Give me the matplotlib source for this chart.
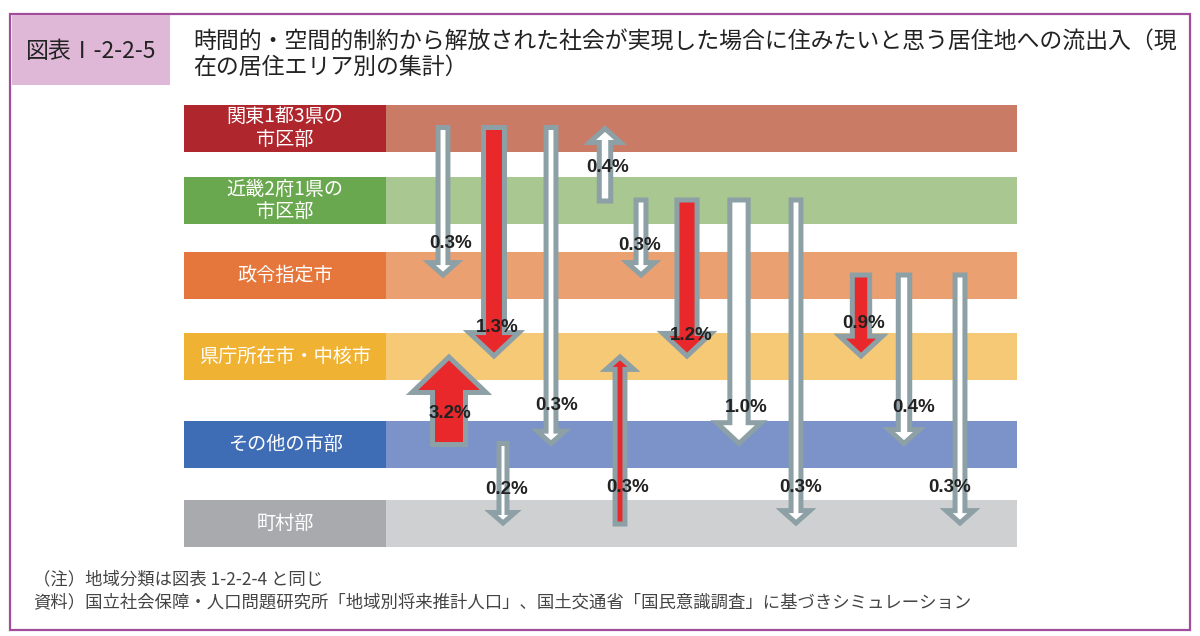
import numpy as np
import matplotlib
matplotlib.use("Agg")
import matplotlib.pyplot as plt
from matplotlib.patches import Polygon, Rectangle

plt.rcParams['font.family'] = ['Noto Sans CJK JP', 'DejaVu Sans']

# data
regions = ["関東1都3県の\n市区部", "近畿2府1県の\n市区部", "政令指定市",
           "県庁所在市・中核市", "その他の市部", "町村部"]
flow_from = [0, 0, 0, 1, 1, 1, 1, 1, 2, 2, 2, 4, 4, 5]
flow_to = [2, 3, 4, 0, 2, 3, 4, 5, 3, 4, 5, 3, 5, 3]
flow_pct = [0.3, 1.3, 0.3, 0.4, 0.3, 1.2, 1.0, 0.3, 0.9, 0.4, 0.3, 3.2, 0.2, 0.3]
flow_major = [False, True, False, False, False, True, False, False,
              True, False, False, True, False, True]

title = ("時間的・空間的制約から解放された社会が実現した場合に住みたいと思う居住地への流出入（現\n"
         "在の居住エリア別の集計）")
fig_no = "図表Ⅰ-2-2-5"
notes = ["（注）地域分類は図表 1-2-2-4 と同じ",
         "資料）国立社会保障・人口問題研究所「地域別将来推計人口」、国土交通省「国民意識調査」に基づきシミュレーション"]

# layout (pixel units)
row_y = [128, 200.5, 275.5, 356.5, 444, 523.5]
row_h = 47
label_left, label_w = 184, 202
band_right = 1017
arrow_x = [443, 494, 551, 605, 641, 687, 739, 796, 861, 904, 960, 449, 503, 620]
label_pos = [(451, 243), (497, 328), (557, 405), (608, 168), (640, 246), (691, 336),
             (746, 407), (801, 487), (864, 323), (914, 407), (950, 487), (450, 413),
             (507, 489), (628, 487)]

label_colors = ["#b0262d", "#6aa84f", "#e5773c", "#f0b232", "#3e6db5", "#a9aaad"]
band_colors = ["#c97b66", "#a8c791", "#eba071", "#f6c977", "#7b93c8", "#cfd0d2"]
red = "#e8282b"
edge = "#8ca0a6"

fig = plt.figure(figsize=(12, 6.36), dpi=100)
ax = fig.add_axes([0, 0, 1, 1])
ax.set_xlim(0, 1200)
ax.set_ylim(636, 0)
ax.axis('off')

# frame and title
ax.add_patch(Rectangle((10, 14), 1180, 616, fill=False, edgecolor="#a24d9c", lw=1.6))
ax.add_patch(Rectangle((12, 15), 158, 70, facecolor="#dfb8d7", edgecolor="none"))
ax.text(91, 51, fig_no, fontsize=16.5, color="#222222", ha='center', va='center')
ax.text(193, 54, title, fontsize=16.5, color="#222222", ha='left', va='center',
        linespacing=1.15)
ax.text(33, 579, notes[0], fontsize=12.5, color="#444444", va='center')
ax.text(33, 602, notes[1], fontsize=12.5, color="#444444", va='center')

# bands
ax.barh(row_y, band_right - label_left - label_w, left=label_left + label_w,
        height=row_h, color=band_colors)
ax.barh(row_y, label_w, left=label_left, height=row_h, color=label_colors)
for y, name in zip(row_y, regions):
    ax.text(label_left + label_w / 2, y, name, color="white", fontsize=13.8,
            ha='center', va='center', linespacing=1.1)

# arrows
lw_px = 5
for i in range(len(flow_pct)):
    v = flow_pct[i]
    w = 4.7 + 18.6 * np.sqrt(v)
    hw = w / 2 - lw_px / 2
    hh = (2 * w + 3) / 2 - lw_px / 2
    hl = w + 1 - lw_px * 0.7
    y0 = row_y[flow_from[i]]
    y1 = row_y[flow_to[i]]
    d = 1 if y1 > y0 else -1
    y0 = y0 - d * 3 + d * lw_px / 2
    y1 = y1 + d * 3 - d * lw_px * 0.7
    x = arrow_x[i]
    yb = y1 - d * hl
    pts = [(x - hw, y0), (x + hw, y0), (x + hw, yb), (x + hh, yb), (x, y1),
           (x - hh, yb), (x - hw, yb)]
    ax.add_patch(Polygon(pts, closed=True, facecolor=red if flow_major[i] else "white",
                         edgecolor=edge, lw=lw_px * 0.72, joinstyle='miter', zorder=3))
    lx, ly = label_pos[i]
    ax.text(lx, ly, f"{v:.1f}%", fontsize=13.5, fontweight='bold', color="#222222",
            family=['Liberation Sans', 'DejaVu Sans'], ha='center', va='center', zorder=4)

fig.savefig("out.png", dpi=100)
